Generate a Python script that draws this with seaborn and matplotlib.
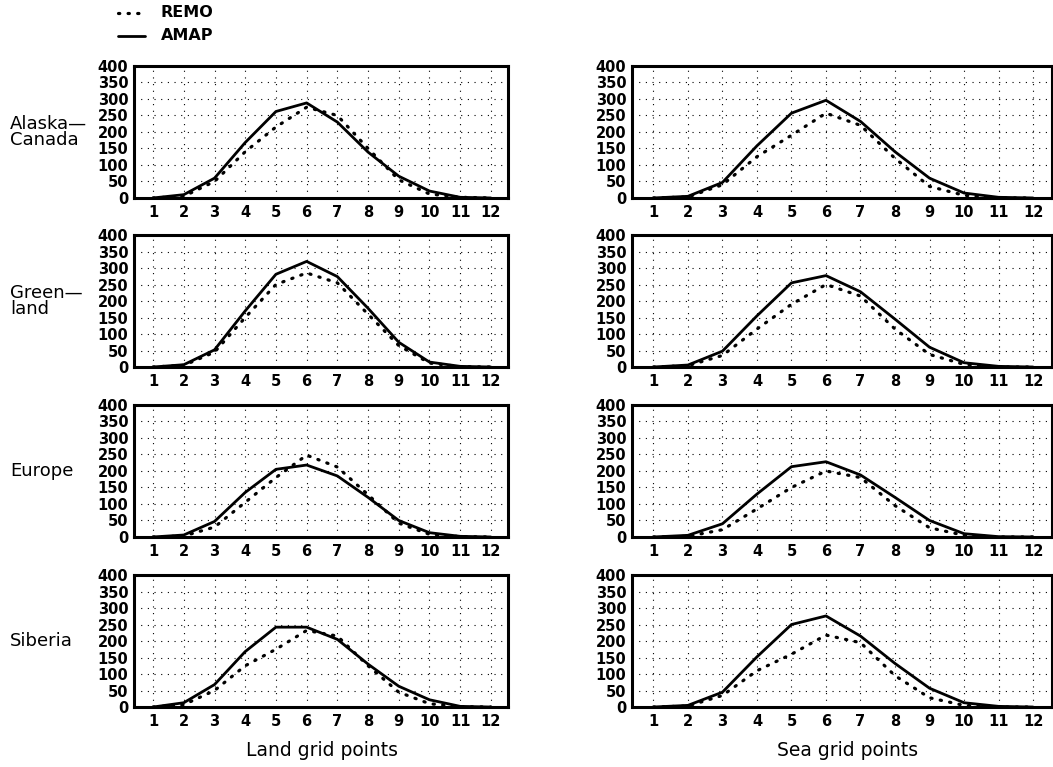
import matplotlib
matplotlib.use('Agg')
import matplotlib.pyplot as plt
import seaborn as sns
import pandas as pd

months = list(range(1, 13))
regions = ['Alaska—\nCanada', 'Green—\nland', 'Europe', 'Siberia']

# land grid points
land_amap = [
    [0, 10, 60, 168, 262, 288, 230, 139, 66, 21, 2, 0],
    [0, 7, 52, 170, 281, 320, 274, 178, 75, 15, 2, 0],
    [0, 6, 47, 135, 205, 218, 185, 120, 50, 13, 2, 0],
    [0, 13, 68, 168, 242, 242, 205, 130, 63, 22, 2, 0],
]
land_remo = [
    [0, 5, 50, 140, 215, 275, 250, 150, 55, 12, 2, 0],
    [0, 5, 45, 150, 250, 285, 255, 160, 65, 12, 1, 0],
    [0, 3, 30, 105, 180, 248, 212, 128, 42, 8, 1, 0],
    [0, 7, 50, 125, 175, 232, 215, 125, 45, 10, 1, 0],
]
# sea grid points
sea_amap = [
    [0, 5, 47, 158, 257, 296, 232, 140, 60, 15, 2, 0],
    [0, 6, 48, 155, 255, 277, 228, 145, 60, 13, 2, 0],
    [0, 5, 40, 130, 213, 228, 188, 120, 50, 10, 1, 0],
    [0, 5, 45, 152, 250, 276, 215, 132, 57, 13, 2, 0],
]
sea_remo = [
    [0, 3, 40, 125, 190, 257, 220, 120, 35, 8, 0, 0],
    [0, 4, 35, 115, 190, 250, 215, 115, 38, 8, 0, 0],
    [0, 2, 22, 85, 150, 200, 180, 95, 28, 5, 0, 0],
    [0, 3, 35, 110, 160, 218, 195, 95, 28, 5, 0, 0],
]

rows = []
for i, reg in enumerate(regions):
    for surf, amap, remo in [('land', land_amap, land_remo), ('sea', sea_amap, sea_remo)]:
        for m in months:
            rows.append({'region': reg, 'surface': surf, 'model': 'AMAP', 'month': m, 'value': amap[i][m - 1]})
            rows.append({'region': reg, 'surface': surf, 'model': 'REMO', 'month': m, 'value': remo[i][m - 1]})
df = pd.DataFrame(rows)

sns.set_style('white')
plt.rcParams['font.family'] = ['DejaVu Sans']
plt.rcParams['text.color'] = 'black'
plt.rcParams['xtick.color'] = 'black'
plt.rcParams['ytick.color'] = 'black'

fig = plt.figure(figsize=(10.53, 7.67), dpi=100)

tick_font = dict(family=['Liberation Sans Narrow', 'DejaVu Sans'], weight='bold', size=10.5)
lefts = {'land': (0.1273, 0.3552), 'sea': (0.6002, 0.3989)}
bottoms = [0.7419, 0.5215, 0.2999, 0.0782]
h = 0.1721
remo_dash = (0, (0.4, 2.6))

for i, reg in enumerate(regions):
    for surf in ['land', 'sea']:
        x0, w = lefts[surf]
        ax = fig.add_axes([x0, bottoms[i], w, h])
        sub = df[(df['region'] == reg) & (df['surface'] == surf)]
        sns.lineplot(data=sub[sub['model'] == 'AMAP'], x='month', y='value', ax=ax,
                     color='black', lw=2.0)
        sns.lineplot(data=sub[sub['model'] == 'REMO'], x='month', y='value', ax=ax,
                     color='black', lw=2.3, linestyle=remo_dash, dash_capstyle='round')
        ax.set_xlim(0.38, 12.56 if surf == 'land' else 12.55)
        ax.set_ylim(0, 400)
        ax.set_xticks(months)
        ax.set_yticks(range(0, 401, 50))
        ax.set_xticklabels([str(m) for m in months], fontdict=tick_font)
        ax.set_yticklabels([str(v) for v in range(0, 401, 50)], fontdict=tick_font)
        ax.tick_params(axis='both', direction='out', length=3, width=1, colors='black')
        ax.tick_params(axis='y', pad=1)
        ax.tick_params(axis='x', pad=2)
        ax.set_xlabel('')
        ax.set_ylabel('')
        ax.grid(True, color='black', linestyle=(0, (1, 5)), linewidth=0.8)
        for sp in ax.spines.values():
            sp.set_linewidth(2.2)
            sp.set_color('black')
        if surf == 'land':
            yc = bottoms[i] + h * 0.5
            fig.text(0.0095, yc, reg, ha='left', va='center', fontsize=13,
                     linespacing=0.85, fontweight='medium')

# legend at top left
lax = fig.add_axes([0.0, 0.92, 0.3, 0.08])
lax.set_xlim(0, 1)
lax.set_ylim(0, 1)
lax.axis('off')
lax.plot([0.372, 0.46], [0.79, 0.79], color='black', lw=2.3, linestyle=remo_dash,
         dash_capstyle='round')
lax.plot([0.372, 0.46], [0.42, 0.42], color='black', lw=2.0)
lax.text(0.508, 0.79, 'REMO', ha='left', va='center', fontsize=11.5, fontweight='bold')
lax.text(0.508, 0.42, 'AMAP', ha='left', va='center', fontsize=11.5, fontweight='bold')

fig.text(0.306, 0.022, 'Land grid points', ha='center', va='center', fontsize=13.5,
         fontweight='medium')
fig.text(0.805, 0.022, 'Sea grid points', ha='center', va='center', fontsize=13.5,
         fontweight='medium')

fig.savefig('out.png', dpi=100)
